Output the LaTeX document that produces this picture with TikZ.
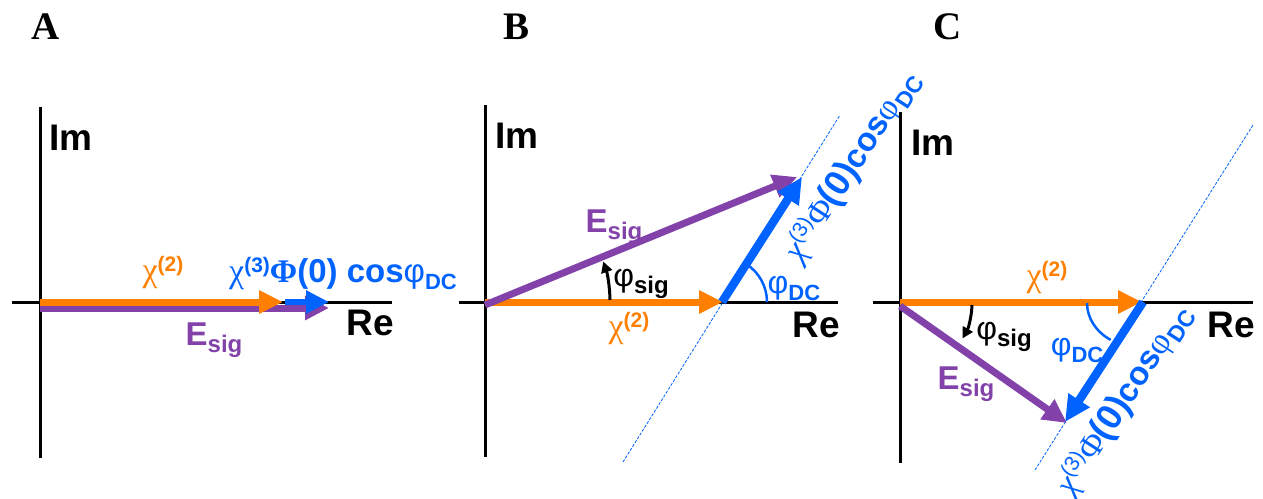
\documentclass[tikz,border=0pt]{standalone}
\usepackage{fontspec}
\setmainfont{Liberation Sans}
\newfontfamily\serifgr{Liberation Serif}
\usetikzlibrary{arrows.meta}
\definecolor{cor}{RGB}{255,127,0}
\definecolor{cpu}{RGB}{130,66,170}
\definecolor{cbl}{RGB}{0,98,255}
\newcommand{\myfs}[1]{\fontsize{#1pt}{#1pt}\selectfont}
\newcommand{\mysub}[2]{\raisebox{-7pt}{\myfs{#1}\textbf{#2}}}
\newcommand{\mysup}[2]{\raisebox{10pt}{\myfs{#1}\textbf{#2}}}
\newcommand{\mysupl}[2]{\raisebox{11pt}{\myfs{#1}#2}}
\newcommand{\Esig}{{\myfs{33}\textbf{E}}\mysub{24}{sig}}
\newcommand{\chitwo}{{\serifgr\myfs{34}χ}\mysup{21}{(2)}}
\newcommand{\phisig}{{\myfs{32}φ}\mysub{24}{sig}}
\newcommand{\phidc}{{\myfs{32}φ}\mysub{22}{DC}}
\newcommand{\rotlab}{{\serifgr\itshape\myfs{34}χ}\mysupl{21}{(3)}{\serifgr\myfs{34}Φ}{\myfs{36}\textbf{(0)}}{\myfs{33}\textbf{cos}}{\serifgr\myfs{34}φ}\mysub{23}{DC}}
\begin{document}
\begin{tikzpicture}[x=1pt,y=-1pt,
  axis/.style={line width=3pt,black},
  axlab/.style={inner sep=0pt,font=\myfs{37}\bfseries},
  panlab/.style={inner sep=0pt,font=\serifgr\myfs{39}\bfseries},
  txt/.style={inner sep=0pt},
  vor/.style={line width=7pt,cor,-{Triangle[length=24pt,width=22pt]}},
  vpu/.style={line width=7pt,cpu,-{Triangle[length=24pt,width=23pt]}},
  vbl/.style={line width=8.5pt,cbl,-{Triangle[length=26pt,width=24pt]}},
  vblA/.style={line width=6pt,cbl,-{Triangle[length=23pt,width=22pt]}},
  guide/.style={line width=0.8pt,cbl,dash pattern=on 3pt off 1.5pt},
  angarc/.style={line width=3pt,black,-{Triangle[length=11pt,width=11pt]}},
  dcarc/.style={line width=2.5pt,cbl}
]
\useasboundingbox (0,0) rectangle (1263,498);

% ---------- Panel A ----------
\node[panlab] (labA) at (46,27) {A};
\coordinate (Ay1) at (40,107); \coordinate (Ay2) at (40,458);
\coordinate (Ax1) at (12,302); \coordinate (Ax2) at (392,302);
\draw[axis] (Ay1) -- (Ay2);
\draw[axis] (Ax1) -- (Ax2);
\node[axlab] (ImA) at (71,138) {Im};
\node[axlab] (ReA) at (370,323) {Re};
\coordinate (AOp) at (40,308); \coordinate (APp) at (329,308);
\coordinate (AO) at (40,302); \coordinate (AC) at (283,302);
\coordinate (AB0) at (285,302); \coordinate (AB1) at (329,302);
\draw[vpu] (AOp) -- (APp);
\draw[vor] (AO) -- (AC);
\draw[vblA] (AB0) -- (AB1);
\node[txt,cor] (chiA) at (163,273) {\chitwo};
\node[txt,cbl,anchor=west] (blA) at (229,274) {{\serifgr\myfs{34}χ}\mysup{21}{(3)}{\serifgr\bfseries\myfs{33}Φ}{\myfs{33}\textbf{(0) cos}φ}\mysub{22}{DC}};
\node[txt,cpu] (EA) at (214,340) {\Esig};

% ---------- Panel B ----------
\node[panlab] (labB) at (516,27) {B};
\coordinate (By1) at (485,105); \coordinate (By2) at (485,457);
\coordinate (Bx1) at (459,302); \coordinate (Bx2) at (838,302);
\draw[axis] (By1) -- (By2);
\draw[axis] (Bx1) -- (Bx2);
\node[axlab] (ImB) at (517,136) {Im};
\node[axlab] (ReB) at (816,325) {Re};
\coordinate (Bg1) at (623,462); \coordinate (Bg2) at (840,115);
\draw[guide] (Bg1) -- (Bg2);
\node[txt,cpu] (EB) at (614,227) {\Esig};
\coordinate (BO) at (485,302); \coordinate (BOp) at (485,305);
\coordinate (BC) at (723,302); \coordinate (BV) at (722,302);
\coordinate (BP) at (797,177); \coordinate (BT) at (802,177);
\draw[vor] (BO) -- (BC);
\draw[vpu] (BOp) -- (BP);
\draw[vbl] (BV) -- (BT);
\coordinate (Bs0) at (610,300);
\draw[angarc] (Bs0) arc[start angle=1,end angle=19,radius=125pt];
\coordinate (Bd0) at (767,302);
\draw[dcarc] (Bd0) arc[start angle=0,end angle=57,radius=45pt];
\node[txt] (psB) at (641,284) {\phisig};
\node[txt,cbl] (pdB) at (794,288) {\phidc};
\node[txt,cor] (chiB) at (629,329) {\chitwo};
\node[txt,cbl,rotate=57] (rlB) at (852,166) {\rotlab};

% ---------- Panel C ----------
\node[panlab] (labC) at (948,27) {C};
\coordinate (Cy1) at (900,112); \coordinate (Cy2) at (900,463);
\coordinate (Cx1) at (873,302); \coordinate (Cx2) at (1253,302);
\draw[axis] (Cy1) -- (Cy2);
\draw[axis] (Cx1) -- (Cx2);
\node[axlab] (ImC) at (933,143) {Im};
\node[axlab] (ReC) at (1231,325) {Re};
\coordinate (Cg1) at (1035,470); \coordinate (Cg2) at (1253,125);
\draw[guide] (Cg1) -- (Cg2);
\coordinate (CO) at (900,302); \coordinate (COp) at (900,306);
\coordinate (CC) at (1142,302); \coordinate (CV) at (1143,302);
\coordinate (CP) at (1067,423); \coordinate (CT) at (1065,422);
\draw[vor] (CO) -- (CC);
\draw[vpu] (COp) -- (CP);
\draw[vbl] (CV) -- (CT);
\coordinate (Cs0) at (972,305);
\draw[angarc] (Cs0) arc[start angle=-2,end angle=-30,radius=72pt];
\coordinate (Cd0) at (1087,303);
\draw[dcarc] (Cd0) arc[start angle=180,end angle=237,x radius=52pt,y radius=44pt];
\node[txt,cor] (chiC) at (1047,278) {\chitwo};
\node[txt] (psC) at (1004,337) {\phisig};
\node[txt,cpu] (EC) at (966,384) {\Esig};
\node[txt,cbl] (pdC) at (1077,350) {\phidc};
\node[txt,cbl,rotate=57] (rlC) at (1124,400) {\rotlab};
\end{tikzpicture}
\end{document}
